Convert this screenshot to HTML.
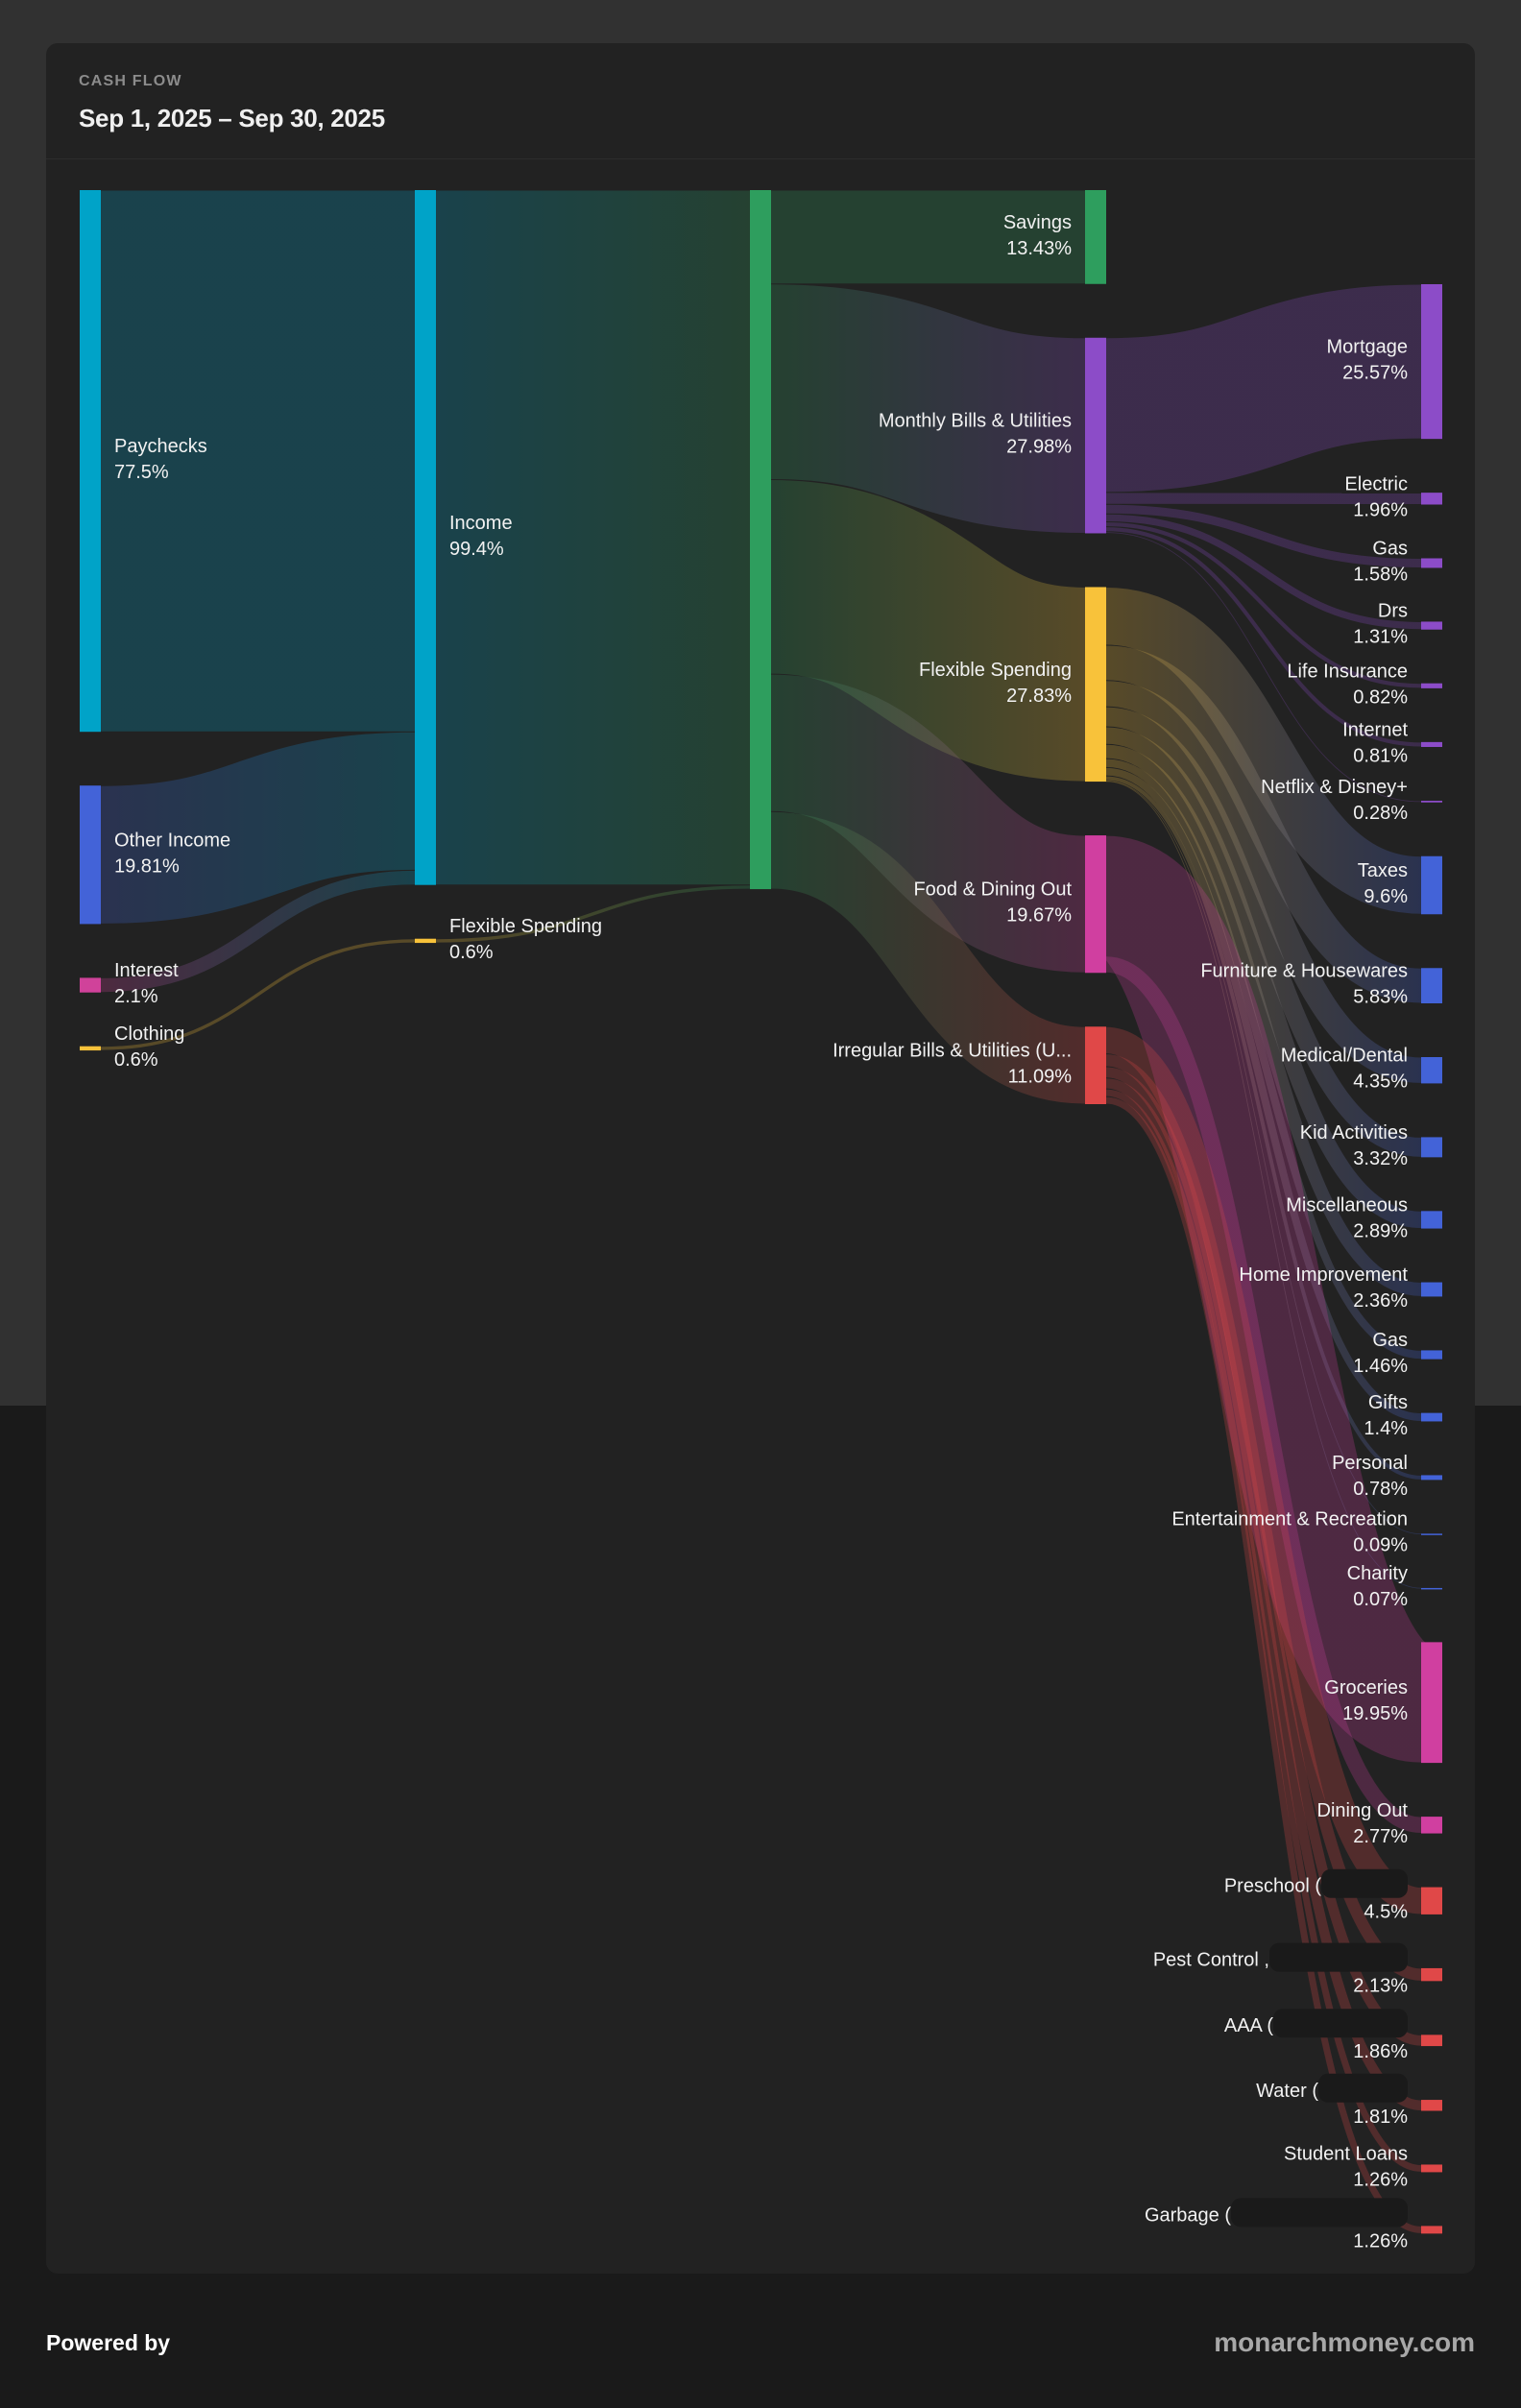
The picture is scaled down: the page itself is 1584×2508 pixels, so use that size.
<!DOCTYPE html>
<html><head><meta charset="utf-8">
<style>
html,body{margin:0;padding:0;width:1584px;height:2508px;overflow:hidden;font-family:"Liberation Sans",sans-serif;}
body{background:linear-gradient(#313131 0,#313131 1464px,#1a1a1a 1464px,#1a1a1a 100%);}
#card{position:absolute;left:48px;top:45px;width:1488px;height:2323px;background:#222;border-radius:12px;}
#hdr{position:absolute;left:0;top:0;width:1488px;height:120px;border-bottom:1px solid #2c2c2c;}
#kicker{position:absolute;left:34px;top:31px;font-size:16px;color:#8c8c8c;letter-spacing:1.2px;font-weight:bold;}
#title{position:absolute;left:34px;top:63px;font-size:26px;color:#f0f0f0;font-weight:bold;letter-spacing:-0.3px;}
#chart{position:absolute;left:0;top:0;}
#pb{position:absolute;left:48px;top:2427px;font-size:23px;color:#fff;font-weight:bold;}
#mm{position:absolute;right:48px;top:2424px;font-size:28px;color:#a8a8a8;font-weight:bold;}
</style></head>
<body>
<div id="card">
  <div id="hdr">
    <div id="kicker">CASH FLOW</div>
    <div id="title">Sep 1, 2025 – Sep 30, 2025</div>
  </div>
</div>
<svg id="chart" width="1584" height="2508"></svg>
<div id="pb">Powered by</div>
<div id="mm">monarchmoney.com</div>
<script>
const incomeNames=['Paychecks','Other Income','Interest','Clothing'];
const incomeValues=[77.5,19.81,2.1,0.6];
const groupNames=['Savings','Monthly Bills & Utilities','Flexible Spending','Food & Dining Out','Irregular Bills & Utilities (U...'];
const groupValues=[13.43,27.98,27.83,19.67,11.09];
const catNames=['Mortgage','Electric','Gas','Drs','Life Insurance','Internet','Netflix & Disney+','Taxes','Furniture & Housewares','Medical/Dental','Kid Activities','Miscellaneous','Home Improvement','Gas','Gifts','Personal','Entertainment & Recreation','Charity','Groceries','Dining Out','Preschool (','Pest Control ,','AAA (','Water (','Student Loans','Garbage ('];
const catValues=[25.57,1.96,1.58,1.31,0.82,0.81,0.28,9.6,5.83,4.35,3.32,2.89,2.36,1.46,1.4,0.78,0.09,0.07,19.95,2.77,4.5,2.13,1.86,1.81,1.26,1.26];
const catGroup=[1,1,1,1,1,1,1,2,2,2,2,2,2,2,2,2,2,2,3,3,4,4,4,4,4,4];
const catRedact=[0,0,0,0,0,0,0,0,0,0,0,0,0,0,0,0,0,0,0,0,90,144,140,93,0,184];

const svg=document.getElementById('chart');
const NS='http://www.w3.org/2000/svg';
const K=7.28, GAP=56, NW=22;
const COLX=[83,432,781,1130,1480];
const C={cyan:'#00a3c8',blue:'#4363d8',pink:'#d0429a',yellow:'#f8c23a',green:'#2e9e5e',purple:'#8c4cc8',food:'#d03fa0',red:'#e04848'};
function mk(tag,attrs){const e=document.createElementNS(NS,tag);for(const k in attrs)e.setAttribute(k,attrs[k]);return e;}
const defs=mk('defs',{});svg.appendChild(defs);
const linkG=mk('g',{});svg.appendChild(linkG);
const nodeG=mk('g',{});svg.appendChild(nodeG);
const labelG=mk('g',{});svg.appendChild(labelG);

function fmt(v){return (Math.round(v*100)/100)+'%';}
const nodes=[];
function addNode(name,val,col,y,color,pct,side,redact){
  const n={name,val,col,y,h:val*K,color,pct,side,redact:redact||0,out:0,inn:0};
  nodes.push(n);return n;
}
function stackCol(list,top,col){let y=top;return list.map(o=>{const n=addNode(o.name,o.val,col,y,o.color,o.pct,o.side,o.redact);y+=n.h+GAP;return n;});}

const incCols=[C.cyan,C.blue,C.pink,C.yellow];
const c1=stackCol(incomeNames.map((n,i)=>({name:n,val:incomeValues[i],color:incCols[i],pct:fmt(incomeValues[i]),side:'r'})),198,0);
const incomeSum=incomeValues[0]+incomeValues[1]+incomeValues[2];
const c2=stackCol([{name:'Income',val:incomeSum,color:C.cyan,pct:(Math.round(incomeSum*10)/10)+'%',side:'r'},{name:'Flexible Spending',val:incomeValues[3],color:C.yellow,pct:(Math.round(incomeValues[3]*10)/10)+'%',side:'r'}],198,1);
const total=incomeValues.reduce((a,b)=>a+b,0);
const c3=stackCol([{name:'',val:total,color:C.green,pct:'',side:'n'}],198,2);
const grpCols=[C.green,C.purple,C.yellow,C.food,C.red];
const c4=stackCol(groupNames.map((n,i)=>({name:n,val:groupValues[i],color:grpCols[i],pct:fmt(groupValues[i]),side:'l'})),198,3);
const expShare=(100-groupValues[0])/100;
const catCols=[null,C.purple,C.blue,C.food,C.red];
const c5=stackCol(catNames.map((n,i)=>({name:n,val:catValues[i]*expShare,color:catCols[catGroup[i]],pct:fmt(catValues[i]),side:'l',redact:catRedact[i]})),296,4);

let gid=0;
function link(s,t,v){
  const h=v*K;
  const x0=COLX[s.col]+NW, x1=COLX[t.col];
  const y0=s.y+s.out+h/2, y1=t.y+t.inn+h/2;
  s.out+=h;t.inn+=h;
  const id='g'+(gid++);
  const gr=mk('linearGradient',{id,gradientUnits:'userSpaceOnUse',x1:x0,x2:x1,y1:0,y2:0});
  gr.appendChild(mk('stop',{offset:'0','stop-color':s.color}));
  gr.appendChild(mk('stop',{offset:'1','stop-color':t.color}));
  defs.appendChild(gr);
  const m=(x0+x1)/2;
  const p=mk('path',{d:`M${x0},${y0} C${m},${y0} ${m},${y1} ${x1},${y1}`,fill:'none',stroke:`url(#${id})`,'stroke-width':Math.max(h-1,0.8),'stroke-opacity':0.25});
  
  
  linkG.appendChild(p);
}
for(let i=0;i<3;i++)link(c1[i],c2[0],incomeValues[i]);
link(c1[3],c2[1],incomeValues[3]);
link(c2[0],c3[0],c2[0].val);
link(c2[1],c3[0],c2[1].val);
for(let i=0;i<5;i++)link(c3[0],c4[i],groupValues[i]);
for(let i=0;i<c5.length;i++)link(c4[catGroup[i]],c5[i],c5[i].val);

nodes.forEach(n=>{
  const r=mk('rect',{x:COLX[n.col],y:n.y,width:NW,height:Math.max(n.h,1.5),fill:n.color});
  
  
  nodeG.appendChild(r);
  if(n.side==='n')return;
  const cy=n.y+n.h/2;
  const anchor=n.side==='r'?'start':'end';
  const lx=n.side==='r'?COLX[n.col]+NW+14:COLX[n.col]-14;
  const nameX=lx-(n.redact||0);
  const t1=mk('text',{x:nameX,y:cy-9,'text-anchor':anchor,fill:'#f2f2f2','font-size':20,'font-family':'Liberation Sans, sans-serif'});
  t1.textContent=n.name;
  
  
  labelG.appendChild(t1);
  if(n.redact){
    const rr=mk('rect',{x:lx-n.redact,y:cy-33,width:n.redact,height:30,rx:10,fill:'#1a1a1a'});
    
    
    labelG.appendChild(rr);
  }
  const t2=mk('text',{x:lx,y:cy+18,'text-anchor':anchor,fill:'#f2f2f2','font-size':20,'font-family':'Liberation Sans, sans-serif'});
  t2.textContent=n.pct;
  
  
  labelG.appendChild(t2);
});
</script>
</body></html>
